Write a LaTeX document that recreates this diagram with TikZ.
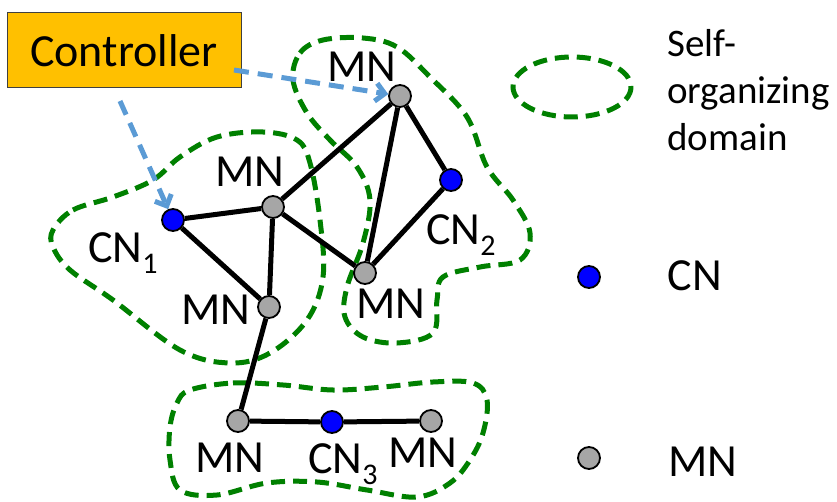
\documentclass[tikz,border=0pt]{standalone}
\usepackage{fontspec}
\setmainfont{Carlito}
\usetikzlibrary{arrows.meta}
\definecolor{ctrlfill}{HTML}{FFC000}
\definecolor{ctrlborder}{HTML}{404040}
\definecolor{arrowblue}{HTML}{5B9BD5}
\definecolor{domgreen}{HTML}{008000}
\definecolor{mngray}{HTML}{A6A6A6}
\definecolor{cnblue}{HTML}{0000FF}
\newcommand\subsc[1]{\raisebox{-11pt}{\fontsize{30}{30}\selectfont #1}}
\begin{document}
\begin{tikzpicture}[x=1pt,y=-1pt,
  mnnode/.style={circle, draw=black, line width=1.8pt, fill=mngray, minimum size=22pt, inner sep=0pt},
  cnnode/.style={circle, draw=black, line width=1.8pt, fill=cnblue, minimum size=22pt, inner sep=0pt},
  link/.style={draw=black, line width=5pt},
  somdomain/.style={draw=domgreen, line width=5pt, dash pattern=on 14pt off 8pt},
  ctrlarrow/.style={draw=arrowblue, line width=5pt, dash pattern=on 15pt off 9pt, -{Straight Barb[length=9pt, width=18pt]}},
  lbl/.style={font=\fontsize{46}{50}\selectfont, inner sep=0pt},
  legendtext/.style={font=\fontsize{39}{47}\selectfont, inner sep=0pt, align=left}]
\useasboundingbox (0,0) rectangle (837,502);

% self-organizing domains
\draw[somdomain] plot[smooth cycle, tension=0.6] coordinates {
  (53,230) (73,210) (113,197) (153,180) (180,157) (217,137) (263,132) (297,140)
  (310,163) (320,220) (323,277) (307,320) (270,353) (230,363) (180,350) (113,300)
  (70,270) (53,247)};
\draw[somdomain] plot[smooth cycle, tension=0.6] coordinates {
  (293,80) (300,53) (323,40) (363,38) (397,47) (430,77) (467,117) (487,167)
  (513,200) (530,233) (520,260) (480,267) (443,277) (437,300) (433,333) (397,343)
  (363,337) (345,317) (347,287) (363,243) (370,200) (357,167) (330,140) (307,113)};
\draw[somdomain] plot[smooth cycle, tension=0.6] coordinates {
  (190,390) (233,383) (283,385) (333,390) (383,387) (433,382) (473,383) (487,400)
  (483,433) (470,460) (450,483) (417,497) (367,490) (317,482) (267,483) (217,495)
  (180,490) (170,460) (170,427) (177,403)};
\draw[somdomain] (572,87) ellipse [x radius=59, y radius=30];

% nodes
\node[mnnode] (A) at (400,96) {};
\node[mnnode] (B) at (273,207) {};
\node[cnnode] (CN1) at (173,220) {};
\node[mnnode] (C) at (269,307) {};
\node[cnnode] (CN2) at (451,180) {};
\node[mnnode] (D) at (365,273) {};
\node[mnnode] (E) at (238,421) {};
\node[cnnode] (CN3) at (332,422) {};
\node[mnnode] (F) at (431,421) {};

% links
\draw[link] (A) -- (B);
\draw[link] (A) -- (D);
\draw[link] (A) -- (CN2);
\draw[link] (CN2) -- (D);
\draw[link] (B) -- (CN1);
\draw[link] (B) -- (C);
\draw[link] (B) -- (D);
\draw[link] (CN1) -- (C);
\draw[link] (C) -- (E);
\draw[link] (E) -- (CN3);
\draw[link] (CN3) -- (F);

% labels
\node[lbl] (lA) at (362,67) {MN};
\node[lbl] (lB) at (250,172) {MN};
\node[lbl] (lC) at (216,310) {MN};
\node[lbl] (lD) at (391,304) {MN};
\node[lbl] (lE) at (230,458) {MN};
\node[lbl] (lF) at (423,453) {MN};
\node[lbl, anchor=base west] (lCN1) at (88,263) {CN\subsc{1}};
\node[lbl, anchor=base west] (lCN2) at (426,245) {CN\subsc{2}};
\node[lbl, anchor=base west] (lCN3) at (308,473) {CN\subsc{3}};

% controller
\node[draw=ctrlborder, line width=1pt, fill=ctrlfill, minimum width=234pt, minimum height=75pt,
      font=\fontsize{46}{50}\selectfont, inner sep=0pt] (ctrl) at (124,50.5) {Controller};
\coordinate (c1) at (234,70);
\coordinate (c2) at (120,101);
\draw[ctrlarrow] (c1) -- (A);
\draw[ctrlarrow] (c2) -- (CN1);

% legend
\node[legendtext, anchor=north west] (legdom) at (667,29) {Self-\\organizing\\domain};
\node[cnnode] (legcn) at (589,277) {};
\node[mnnode] (legmn) at (589,458) {};
\node[lbl] (legcnt) at (695,276) {CN};
\node[lbl] (legmnt) at (703,462) {MN};
\end{tikzpicture}
\end{document}
